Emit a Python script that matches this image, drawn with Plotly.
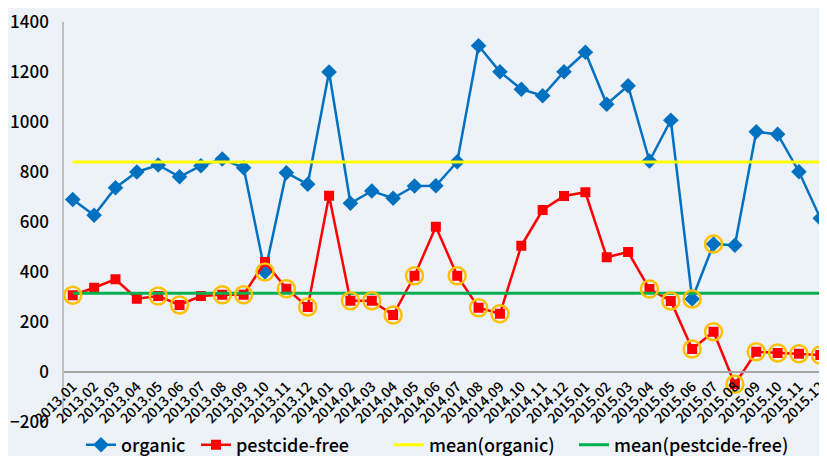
import plotly.graph_objects as go

months = ["2013.01","2013.02","2013.03","2013.04","2013.05","2013.06","2013.07","2013.08","2013.09","2013.10","2013.11","2013.12",
          "2014.01","2014.02","2014.03","2014.04","2014.05","2014.06","2014.07","2014.08","2014.09","2014.10","2014.11","2014.12",
          "2015.01","2015.02","2015.03","2015.04","2015.05","2015.06","2015.07","2015.08","2015.09","2015.10","2015.11","2015.12"]

organic = [690, 627, 737, 800, 828, 781, 825, 852, 817, 400, 797, 751,
           1200, 675, 724, 695, 744, 745, 841, 1305, 1201, 1131, 1105, 1201,
           1279, 1071, 1145, 844, 1007, 292, 512, 507, 961, 951, 801, 615]

pesticide_free = [307, 337, 371, 293, 304, 268, 304, 309, 309, 440, 333, 260,
                  705, 285, 285, 228, 385, 581, 385, 257, 233, 505, 648, 704,
                  719, 459, 480, 332, 284, 92, 161, -49, 81, 76, 73, 68]

mean_organic = 840
mean_pesticide_free = 315

# highlighted (circled) points
circled_pesticide = ["2013.01","2013.05","2013.06","2013.08","2013.09","2013.11","2013.12",
                     "2014.02","2014.03","2014.04","2014.05","2014.07","2014.08","2014.09",
                     "2015.04","2015.05","2015.06","2015.07","2015.08","2015.09","2015.10","2015.11","2015.12"]
circled_organic = ["2013.10","2015.06","2015.07"]

y_ticks = [-200, 0, 200, 400, 600, 800, 1000, 1200, 1400]

FONT = "Noto Sans CJK KR"
BG = "#EDF2F9"

fig = go.Figure()
fig.add_trace(go.Scatter(x=months, y=organic, name="organic", mode="lines+markers", legend="legend",
                         line=dict(color="#0070C0", width=2.5),
                         marker=dict(symbol="diamond", size=12, color="#0070C0")))
fig.add_trace(go.Scatter(x=months, y=pesticide_free, name="pestcide-free", mode="lines+markers", legend="legend2",
                         line=dict(color="#FF0000", width=2.5),
                         marker=dict(symbol="square", size=10, color="#FF0000")))
fig.add_trace(go.Scatter(x=months, y=[mean_organic] * len(months), name="mean(organic)", mode="lines",
                         legend="legend3", line=dict(color="#FFFF00", width=3)))
fig.add_trace(go.Scatter(x=months, y=[mean_pesticide_free] * len(months), name="mean(pestcide-free)", mode="lines",
                         legend="legend4", line=dict(color="#00B050", width=3)))

idx_p = [months.index(m) for m in circled_pesticide]
idx_o = [months.index(m) for m in circled_organic]
fig.add_trace(go.Scatter(x=[months[i] for i in idx_p], y=[pesticide_free[i] for i in idx_p],
                         mode="markers", showlegend=False, hoverinfo="skip", cliponaxis=False,
                         marker=dict(symbol="circle-open", size=17, color="#FFC000", line=dict(width=2.5, color="#FFC000"))))
fig.add_trace(go.Scatter(x=[months[i] for i in idx_o], y=[organic[i] for i in idx_o],
                         mode="markers", showlegend=False, hoverinfo="skip", cliponaxis=False,
                         marker=dict(symbol="circle-open", size=17, color="#FFC000", line=dict(width=2.5, color="#FFC000"))))

W, H = 827, 456
L, R, T, B = 56, 4, 14, 42
pw, ph = W - L - R, H - T - B

def px_x(p):
    return (p - L) / pw

def px_y(p):
    return (H - B - p) / ph

legend_font = dict(family=FONT, size=18, color="#000000", weight=500)

def make_legend(xpx):
    return dict(orientation="h", x=px_x(xpx), xanchor="left", y=px_y(437), yanchor="middle",
                font=legend_font, bgcolor="rgba(0,0,0,0)", itemwidth=30)

fig.update_layout(
    width=W, height=H,
    margin=dict(l=L, r=R, t=T, b=B, autoexpand=False),
    paper_bgcolor=BG, plot_bgcolor=BG,
    font=dict(family=FONT, color="#000000"),
    showlegend=True,
    legend=make_legend(73),
    legend2=make_legend(188),
    legend3=make_legend(381),
    legend4=make_legend(566),
    xaxis=dict(type="category", range=[-0.41, 35.5], anchor="free", position=0.125,
               showline=True, linecolor="#A6A6A6", linewidth=1.5, showgrid=False, zeroline=False,
               ticks="", tickangle=-45, tickfont=dict(family=FONT, size=14, color="#000000", weight=500),
               automargin=False),
    yaxis=dict(range=[-200, 1400], tickvals=y_ticks, showline=True, linecolor="#BFBFBF", linewidth=1.5,
               showgrid=False, zeroline=False, ticks="", ticklabelstandoff=10, ticklabeloverflow="allow",
               tickfont=dict(family=FONT, size=17, color="#000000", weight=500), automargin=False),
)

fig.write_html("out.html")
